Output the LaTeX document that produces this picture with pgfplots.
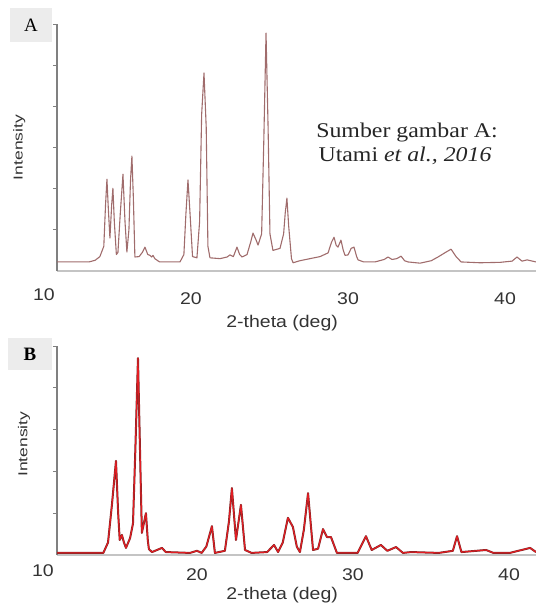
\documentclass[border=0pt]{standalone}
\usepackage{fontspec}
\setmainfont{Liberation Serif}
\newfontfamily\lab[FakeStretch=1.15]{Liberation Sans}
\newfontfamily\labv[FakeStretch=1.35]{Liberation Sans}
\newfontfamily\ann[FakeStretch=1.14]{Liberation Serif}
\usepackage{pgfplots}
\pgfplotsset{compat=1.18}
\definecolor{lineA}{RGB}{160,108,108}
\definecolor{redB}{RGB}{228,28,34}
\definecolor{darkB}{RGB}{120,40,40}
\definecolor{yax}{RGB}{128,128,128}
\definecolor{xax}{RGB}{196,196,196}
\definecolor{boxg}{RGB}{236,236,236}
\pgfplotsset{xrd/.style={
  scale only axis, width=479bp,
  axis x line*=bottom, axis y line*=left,
  axis line style={-},
  x axis line style={draw=xax, line width=1.3bp},
  y axis line style={draw=yax, line width=1.6bp},
  xtick={20,30,40},
  x tick style={draw=none},
  yticklabels={},
  y tick style={draw=yax, line width=0.8bp},
  tick align=outside, major tick length=4bp,
  /pgf/number format/assume math mode=true,
  tick label style={font=\lab\fontsize{17}{17}\selectfont, text=black!80},
  xticklabel style={anchor=center},
  xlabel={2-theta (deg)},
  ylabel={Intensity},
  xlabel style={font=\lab\fontsize{17}{17}\selectfont, text=black!80, anchor=center},
  ylabel style={font=\labv\fontsize{13}{13}\selectfont, text=black!80, anchor=center},
  clip=false,
}}
\begin{document}
\begin{tikzpicture}
\path[use as bounding box] (0,0) rectangle (536bp,605bp);
% Panel A
\begin{axis}[xrd, at={(57bp,334bp)}, anchor=south west, height=247bp,
  xmin=11.47, xmax=41.97, ymin=0, ymax=6, ytick={1,2,3,4,5,6},
  xticklabel style={yshift=-24bp},
  xlabel style={at={(axis description cs:0.47,0)}, yshift=-52bp},
  ylabel style={at={(axis description cs:-0.079,0.5)}}]
\addplot[color=lineA, line width=1.1bp, line join=round] table {
11.47 0.22
13.5 0.22
13.9 0.26
14.2 0.35
14.45 0.6
14.56 1.6
14.65 2.23
14.74 1.5
14.84 0.80
14.95 1.6
15.03 2.01
15.12 1.2
15.25 0.40
15.35 0.45
15.5 1.4
15.67 2.35
15.8 1.2
15.92 0.46
16.05 1.0
16.15 2.2
16.24 2.79
16.33 1.8
16.43 0.34
16.7 0.35
16.9 0.45
17.07 0.58
17.25 0.40
17.39 0.38
17.5 0.34
17.58 0.38
17.7 0.30
18.0 0.22
19.3 0.22
19.55 0.4
19.68 1.4
19.81 2.21
19.94 1.4
20.1 0.35
20.38 0.32
20.55 1.2
20.68 3.8
20.83 4.81
20.97 3.5
21.08 0.6
21.21 0.32
21.85 0.30
22.3 0.34
22.48 0.39
22.7 0.35
22.93 0.58
23.1 0.40
23.25 0.34
23.57 0.40
23.8 0.70
23.95 0.92
24.15 0.75
24.27 0.63
24.5 0.9
24.64 3.2
24.78 5.78
24.91 3.5
25.03 0.9
25.22 0.50
25.67 0.55
25.9 0.9
26.0 1.4
26.11 1.77
26.22 1.1
26.4 0.3
26.5 0.20
26.94 0.25
27.58 0.30
28.22 0.35
28.73 0.44
28.95 0.70
29.11 0.82
29.25 0.62
29.36 0.58
29.55 0.75
29.7 0.5
29.81 0.38
30.0 0.39
30.2 0.55
30.38 0.58
30.55 0.35
30.64 0.27
31.0 0.22
31.72 0.22
32.3 0.28
32.55 0.34
32.8 0.28
33.1 0.30
33.38 0.36
33.6 0.25
33.82 0.22
34.59 0.19
35.3 0.25
35.73 0.34
36.2 0.45
36.56 0.53
36.88 0.35
37.2 0.22
38.41 0.20
39.68 0.21
40.45 0.24
40.76 0.34
41.08 0.24
41.4 0.27
41.97 0.22
};
\end{axis}
% Panel B
\pgfplotstableread{
x y
11.03 0.05
14.0 0.05
14.3 0.3
14.55 1.2
14.81 2.25
14.95 1.0
15.05 0.36
15.19 0.48
15.32 0.3
15.45 0.17
15.71 0.4
15.9 0.75
16.05 2.5
16.22 4.71
16.38 2.0
16.47 0.53
16.73 1.0
16.85 0.35
16.92 0.14
17.12 0.07
17.76 0.17
18.0 0.07
19.55 0.05
20.0 0.1
20.3 0.05
20.6 0.2
20.96 0.69
21.15 0.05
21.79 0.1
22.05 0.8
22.24 1.60
22.5 0.36
22.82 1.20
23.08 0.12
23.5 0.05
24.5 0.07
24.94 0.24
25.2 0.07
25.5 0.3
25.83 0.89
26.15 0.67
26.4 0.2
26.6 0.07
26.85 0.6
27.12 1.48
27.35 0.5
27.44 0.12
27.76 0.15
28.08 0.62
28.33 0.43
28.59 0.43
28.97 0.05
30.3 0.05
30.83 0.45
31.2 0.12
31.79 0.24
32.2 0.1
32.76 0.19
33.2 0.05
33.72 0.07
35.5 0.05
36.4 0.1
36.67 0.45
36.95 0.07
38.53 0.12
39.0 0.05
40.06 0.05
41.35 0.17
41.73 0.07
}\dataB
\begin{axis}[xrd, at={(57bp,50bp)}, anchor=south west, height=209bp,
  xmin=11.03, xmax=41.73, ymin=0, ymax=5, ytick={1,2,3,4,5},
  xticklabel style={yshift=-16bp},
  xlabel style={at={(axis description cs:0.47,0)}, yshift=-40bp},
  ylabel style={at={(axis description cs:-0.069,0.53)}}]
\addplot[color=darkB, line width=2.0bp, line join=round] table {\dataB};
\addplot[color=redB, line width=1.1bp, line join=round] table {\dataB};
\end{axis}
% extra "10" labels (left of the axis line, as in the reference)
\node[font=\lab\fontsize{17}{17}\selectfont, text=black!80] at (44bp,310bp) {10};
\node[font=\lab\fontsize{17}{17}\selectfont, text=black!80] at (43bp,34bp) {10};
% panel letters
\node[fill=boxg, minimum width=42bp, minimum height=34bp, inner sep=0pt, font=\fontsize{19}{19}\selectfont] at (31bp,580bp) {A};
\node[fill=boxg, minimum width=44bp, minimum height=32bp, inner sep=0pt, font=\bfseries\fontsize{19}{19}\selectfont] at (30bp,251bp) {B};
% source note
\node[anchor=base, font=\ann\fontsize{21}{21}\selectfont, text=black!85] at (407bp,467bp) {Sumber gambar A:};
\node[anchor=base, font=\ann\fontsize{21}{21}\selectfont, text=black!85] at (405bp,443bp) {Utami \textit{et al., 2016}};
\end{tikzpicture}
\end{document}
